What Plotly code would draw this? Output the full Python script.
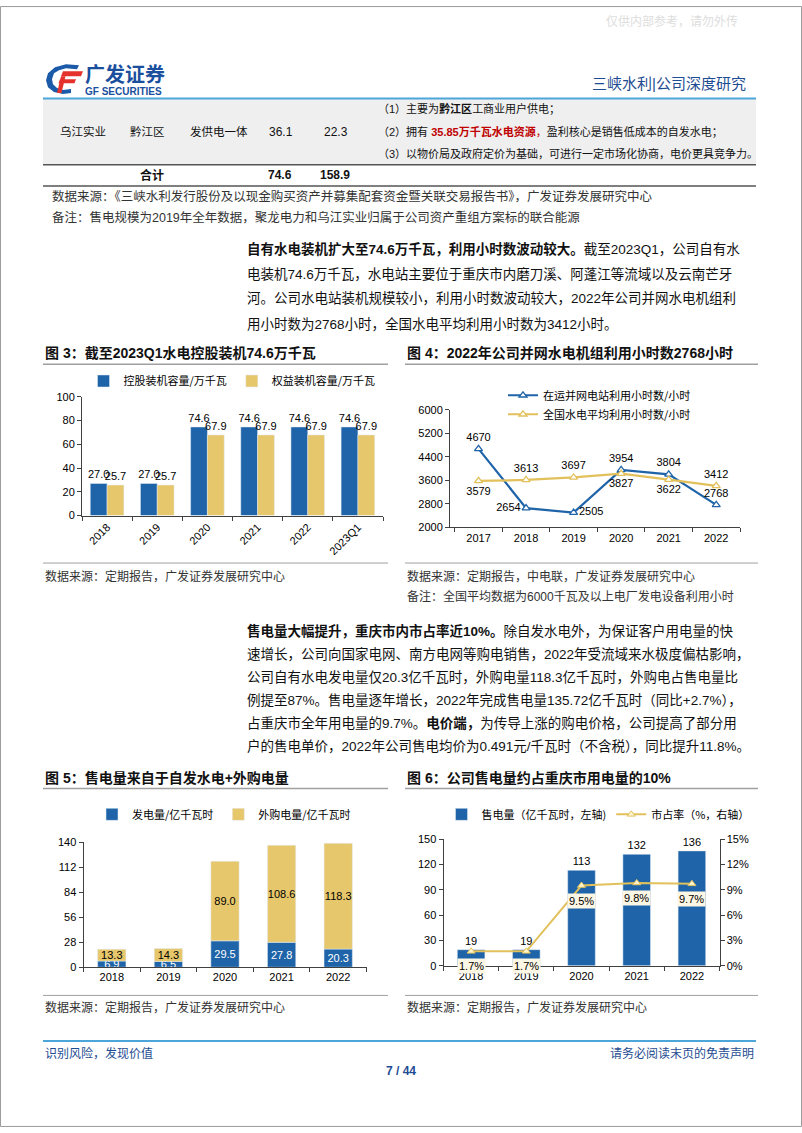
import plotly.graph_objects as go

W, H = 802, 1133


def X(p):
    return p / W


def Y(p):
    return 1 - p / H


FONT = "Liberation Sans, Arial, Noto Sans CJK SC, sans-serif"
CJK = "Noto Sans CJK SC, Liberation Sans, sans-serif"
BLUE = "#1F64A8"
YELLOW = "#E6C76B"
LINE_YELLOW = "#E2C15C"
HEAD_BLUE = "#1E4C92"
TXT = "#111111"
GRAY_TXT = "#333333"
AX = "#404040"
RULE = "#A0A0A0"

# ---------------- data ----------------
cap_years = ["2018", "2019", "2020", "2021", "2022", "2023Q1"]
cap_ctrl = [27.0, 27.0, 74.6, 74.6, 74.6, 74.6]
cap_equity = [25.7, 25.7, 67.9, 67.9, 67.9, 67.9]
cap_names = ["控股装机容量/万千瓦", "权益装机容量/万千瓦"]

hour_years = ["2017", "2018", "2019", "2020", "2021", "2022"]
hours_company = [4670, 2654, 2505, 3954, 3804, 2768]
hours_national = [3579, 3613, 3697, 3827, 3622, 3412]
hour_names = ["在运并网电站利用小时数/小时", "全国水电平均利用小时数/小时"]
company_label_pos = ["top center", "middle left", "middle right", "top center", "top center", "top center"]
national_label_pos = ["bottom center", "top center", "top center", "bottom center", "bottom center", "top center"]

sale_years = ["2018", "2019", "2020", "2021", "2022"]
gen_self = [6.9, 6.5, 29.5, 27.8, 20.3]
gen_purchased = [13.3, 14.3, 89.0, 108.6, 118.3]
gen_names = ["发电量/亿千瓦时", "外购电量/亿千瓦时"]

sales = [19, 19, 113, 132, 136]
share = [1.7, 1.7, 9.5, 9.8, 9.7]
share_names = ["售电量（亿千瓦时，左轴)", "市占率（%，右轴）"]

fig = go.Figure()

# ---------- chart 3 ----------
fig.add_trace(go.Bar(
    x=cap_years, y=cap_ctrl, name=cap_names[0], marker_color=BLUE,
    text=[f"{v:.1f}" for v in cap_ctrl], textposition="outside", textangle=0,
    textfont=dict(size=11, color="#000", family=FONT), cliponaxis=False,
    xaxis="x", yaxis="y", legend="legend"))
fig.add_trace(go.Bar(
    x=cap_years, y=cap_equity, name=cap_names[1], marker_color=YELLOW,
    text=[f"{v:.1f}" for v in cap_equity], textposition="outside", textangle=0,
    textfont=dict(size=11, color="#000", family=FONT), cliponaxis=False,
    xaxis="x", yaxis="y", legend="legend"))

# ---------- chart 4 ----------
fig.add_trace(go.Scatter(
    x=hour_years, y=hours_company, name=hour_names[0], mode="lines+markers+text",
    line=dict(color=BLUE, width=2.2),
    marker=dict(symbol="triangle-up", size=7, color="white", line=dict(color=BLUE, width=1.3)),
    text=[str(v) for v in hours_company], textposition=company_label_pos,
    textfont=dict(size=11, color="#000", family=FONT), cliponaxis=False,
    xaxis="x2", yaxis="y2", legend="legend2"))
fig.add_trace(go.Scatter(
    x=hour_years, y=hours_national, name=hour_names[1], mode="lines+markers+text",
    line=dict(color=LINE_YELLOW, width=2.2),
    marker=dict(symbol="triangle-up", size=7, color="white", line=dict(color=LINE_YELLOW, width=1.3)),
    text=[str(v) for v in hours_national], textposition=national_label_pos,
    textfont=dict(size=11, color="#000", family=FONT), cliponaxis=False,
    xaxis="x2", yaxis="y2", legend="legend2"))

# ---------- chart 5 ----------
fig.add_trace(go.Bar(
    x=sale_years, y=gen_self, name=gen_names[0], marker_color=BLUE, width=0.5,
    offsetgroup="gen", text=[f"{v:.1f}" for v in gen_self], textposition="inside",
    insidetextanchor="middle", textangle=0,
    textfont=dict(size=11, color="white", family=FONT),
    cliponaxis=False, xaxis="x3", yaxis="y3", legend="legend3"))
fig.add_trace(go.Bar(
    x=sale_years, y=gen_purchased, base=gen_self, name=gen_names[1], marker_color=YELLOW,
    width=0.5, offsetgroup="gen", text=[f"{v:.1f}" for v in gen_purchased],
    textposition="inside", insidetextanchor="middle", textangle=0,
    textfont=dict(size=11, color="#000", family=FONT),
    cliponaxis=False, xaxis="x3", yaxis="y3", legend="legend3"))

# ---------- chart 6 ----------
fig.add_trace(go.Bar(
    x=sale_years, y=sales, name=share_names[0], marker_color=BLUE, width=0.5,
    text=[str(v) for v in sales], textposition="outside", textangle=0,
    textfont=dict(size=11, color="#000", family=FONT), cliponaxis=False,
    xaxis="x4", yaxis="y4", legend="legend4"))
fig.add_trace(go.Scatter(
    x=sale_years, y=share, name=share_names[1], mode="lines+markers",
    line=dict(color=LINE_YELLOW, width=2),
    marker=dict(symbol="triangle-up", size=7, color="#FFF4CC", line=dict(color=LINE_YELLOW, width=1)),
    cliponaxis=False, xaxis="x4", yaxis="y5", legend="legend4"))

# ---------------- annotations ----------------
ann = []


def T(x, y, text, size=12, color=TXT, anchor="left", family=FONT):
    ann.append(dict(x=X(x), y=Y(y), xref="paper", yref="paper", text=text, showarrow=False,
                    xanchor=anchor, yanchor="middle", font=dict(size=size, color=color, family=family)))


# chart 6 share labels (positioned on the data scale, category index on x4)
for i, s in enumerate(share):
    ann.append(dict(x=i, y=s, xref="x4", yref="y5", text=f"{s:.1f}%", showarrow=False,
                    yshift=-15, bgcolor="#FCF6E4", borderpad=1,
                    font=dict(size=11, color="#000", family=FONT)))

# header
T(740, 16, "仅供内部参考，请勿外传", 12, "#DDDDDD", "right")
T(83, 70, "<b>广发证券</b>", 20, "#1A4F9E")
T(83, 86, "<b>GF SECURITIES</b>", 10, "#1A4F9E")
T(748, 78, "三峡水利|公司深度研究", 15, HEAD_BLUE, "right")

# table
T(58, 127, "乌江实业", 11.5)
T(128, 127, "黔江区", 11.5)
T(188, 127, "发供电一体", 11.5)
T(267, 127, "36.1", 12)
T(322, 127, "22.3", 12)
T(376, 104, "（1）主要为<b>黔江区</b>工商业用户供电；", 11)
T(376, 127, "（2）拥有 <span style='color:#C00000'><b>35.85万千瓦水电资源</b>，</span>盈利核心是销售低成本的自发水电；", 11)
T(376, 149, "（3）以物价局及政府定价为基础，可进行一定市场化协商，电价更具竞争力。", 11)
T(138, 171, "<b>合计</b>", 12)
T(266, 171, "<b>74.6</b>", 12)
T(318, 171, "<b>158.9</b>", 12)
T(50, 193, "数据来源：《三峡水利发行股份及以现金购买资产并募集配套资金暨关联交易报告书》，广发证券发展研究中心", 12.5, GRAY_TXT)
T(50, 214, "备注：售电规模为2019年全年数据，聚龙电力和乌江实业归属于公司资产重组方案标的联合能源", 12.5, GRAY_TXT)

# paragraph 1
para1 = [
    "<b>自有水电装机扩大至74.6万千瓦，利用小时数波动较大。</b>截至2023Q1，公司自有水",
    "电装机74.6万千瓦，水电站主要位于重庆市内磨刀溪、阿蓬江等流域以及云南芒牙",
    "河。公司水电站装机规模较小，利用小时数波动较大，2022年公司并网水电机组利",
    "用小时数为2768小时，全国水电平均利用小时数为3412小时。",
]
for i, line in enumerate(para1):
    T(245, 246 + 25 * i, line, 13.5)

# paragraph 2
para2 = [
    "<b>售电量大幅提升，重庆市内市占率近10%。</b>除自发水电外，为保证客户用电量的快",
    "速增长，公司向国家电网、南方电网等购电销售，2022年受流域来水极度偏枯影响，",
    "公司自有水电发电量仅20.3亿千瓦时，外购电量118.3亿千瓦时，外购电占售电量比",
    "例提至87%。售电量逐年增长，2022年完成售电量135.72亿千瓦时（同比+2.7%），",
    "占重庆市全年用电量的9.7%。<b>电价端，</b>为传导上涨的购电价格，公司提高了部分用",
    "户的售电单价，2022年公司售电均价为0.491元/千瓦时（不含税），同比提升11.8%。",
]
for i, line in enumerate(para2):
    T(245, 632 + 23.2 * i, line, 13.5)

# chart titles and sources
T(43, 351, "<b>图 3：截至2023Q1水电控股装机74.6万千瓦</b>", 14)
T(405, 351, "<b>图 4：2022年公司并网水电机组利用小时数2768小时</b>", 14)
T(43, 780, "<b>图 5：售电量来自于自发水电+外购电量</b>", 14)
T(405, 780, "<b>图 6：公司售电量约占重庆市用电量的10%</b>", 14)
T(43, 577, "数据来源：定期报告，广发证券发展研究中心", 12, GRAY_TXT)
T(405, 577, "数据来源：定期报告，中电联，广发证券发展研究中心", 12, GRAY_TXT)
T(405, 597, "备注：全国平均数据为6000千瓦及以上电厂发电设备利用小时", 12, GRAY_TXT)
T(43, 1012, "数据来源：定期报告，广发证券发展研究中心", 12, GRAY_TXT)
T(405, 1012, "数据来源：定期报告，广发证券发展研究中心", 12, GRAY_TXT)

# footer
T(43, 1059, "识别风险，发现价值", 12, HEAD_BLUE)
T(756, 1059, "请务必阅读末页的免责声明", 12, HEAD_BLUE, "right")
T(401, 1076, "<b>7 / 44</b>", 12, HEAD_BLUE, "center")

# ---------------- shapes ----------------
shapes = []


def hline(y, x0, x1, color=RULE, width=1):
    shapes.append(dict(type="line", xref="paper", yref="paper", x0=X(x0), x1=X(x1),
                       y0=Y(y), y1=Y(y), line=dict(color=color, width=width)))


def poly(points, color):
    d = "M " + " L ".join(f"{X(a):.5f},{Y(b):.5f}" for a, b in points) + " Z"
    shapes.append(dict(type="path", xref="paper", yref="paper", path=d,
                       fillcolor=color, line=dict(width=0)))


shapes.append(dict(type="rect", xref="paper", yref="paper", x0=0.0006, x1=0.9994, y0=0.0005, y1=0.9995,
                   line=dict(color="#9A9A9A", width=1)))
# table
shapes.append(dict(type="rect", xref="paper", yref="paper", x0=X(43), x1=X(756), y0=Y(160), y1=Y(94),
                   fillcolor="#EFEFEF", line=dict(width=0), layer="below"))
hline(93.5, 43, 756, "#4DA6D9", 2)
hline(160.5, 43, 756, "#555555", 1.5)
hline(182, 43, 756, "#555555", 1.5)
# chart rules
for y0 in (362, 563):
    hline(y0, 43, 388, RULE, 1.5 if y0 == 362 else 1)
    hline(y0, 405, 758, RULE, 1.5 if y0 == 362 else 1)
for y0 in (791, 1000):
    hline(y0, 43, 388, RULE, 1.5 if y0 == 791 else 1)
    hline(y0, 405, 758, RULE, 1.5 if y0 == 791 else 1)
hline(1046, 43, 756, "#4DA6D9", 2)

# logo mark
poly([(79, 60), (66, 59), (55, 62), (48, 68), (46, 75), (48, 82), (54, 87), (63, 89), (71, 88),
      (71, 84), (63, 85), (57, 83), (53, 79), (52, 74), (54, 68), (59, 65), (66, 63), (77, 64)], "#1A5AA8")
poly([(63, 66), (83, 66), (81, 71), (61, 71)], "#E5322D")
poly([(60, 74), (76, 74), (74.5, 78), (58.5, 78)], "#E5322D")
poly([(61, 71), (65.5, 71), (61.5, 88), (57, 88)], "#E5322D")

# ---------------- layout ----------------
axis_common = dict(showline=True, linecolor=AX, linewidth=1, ticks="outside", ticklen=4,
                   tickcolor=AX, showgrid=False, zeroline=False,
                   tickfont=dict(size=11, color="#000", family=FONT))

legend_common = dict(font=dict(size=11, color="#000", family=CJK), bgcolor="rgba(0,0,0,0)",
                     yanchor="middle")

fig.update_layout(
    width=W, height=H, autosize=False,
    margin=dict(l=0, r=0, t=0, b=0, pad=0),
    paper_bgcolor="white", plot_bgcolor="white",
    font=dict(family=FONT, color=TXT),
    barmode="group", bargap=0.33, bargroupgap=0,
    uniformtext=dict(minsize=11, mode="show"),
    showlegend=True,
    xaxis=dict(domain=[X(82), X(383)], anchor="y", type="category", tickangle=-45,
               range=[-0.5, len(cap_years) - 0.5], tickson="boundaries", **axis_common),
    yaxis=dict(domain=[Y(515), Y(395)], anchor="x", range=[0, 100], dtick=20, tick0=0, **axis_common),
    xaxis2=dict(domain=[X(450), X(740)], anchor="y2", type="category", range=[-0.6, 5.5],
                tickson="boundaries", **axis_common),
    yaxis2=dict(domain=[Y(527), Y(408)], anchor="x2", range=[2000, 6000], dtick=800, tick0=2000,
                **axis_common),
    xaxis3=dict(domain=[X(83.5), X(366.5)], anchor="y3", type="category",
                range=[-0.5, len(sale_years) - 0.5], tickson="boundaries", **axis_common),
    yaxis3=dict(domain=[Y(971.5), Y(845)], anchor="x3", range=[0, 140], dtick=28, tick0=0, **axis_common),
    xaxis4=dict(domain=[X(443.5), X(719.5)], anchor="y4", type="category",
                range=[-0.5, len(sale_years) - 0.5], tickson="boundaries", **axis_common),
    yaxis4=dict(domain=[Y(970), Y(842)], anchor="x4", range=[0, 150], dtick=30, tick0=0, **axis_common),
    yaxis5=dict(overlaying="y4", anchor="x4", side="right", range=[0, 15], dtick=3, tick0=0,
                ticksuffix="%", **axis_common),
    legend=dict(x=X(232), y=Y(379), xanchor="center", orientation="h", **legend_common),
    legend2=dict(x=X(503), y=Y(403), xanchor="left", orientation="v", tracegroupgap=0,
                 **legend_common),
    legend3=dict(x=X(224), y=Y(817), xanchor="center", orientation="h", **legend_common),
    legend4=dict(x=X(598), y=Y(817), xanchor="center", orientation="h", **legend_common),
    annotations=ann,
    shapes=shapes,
)

fig.write_html("out.html", config={"displayModeBar": False},
               post_script="document.body.style.margin='0px';")
